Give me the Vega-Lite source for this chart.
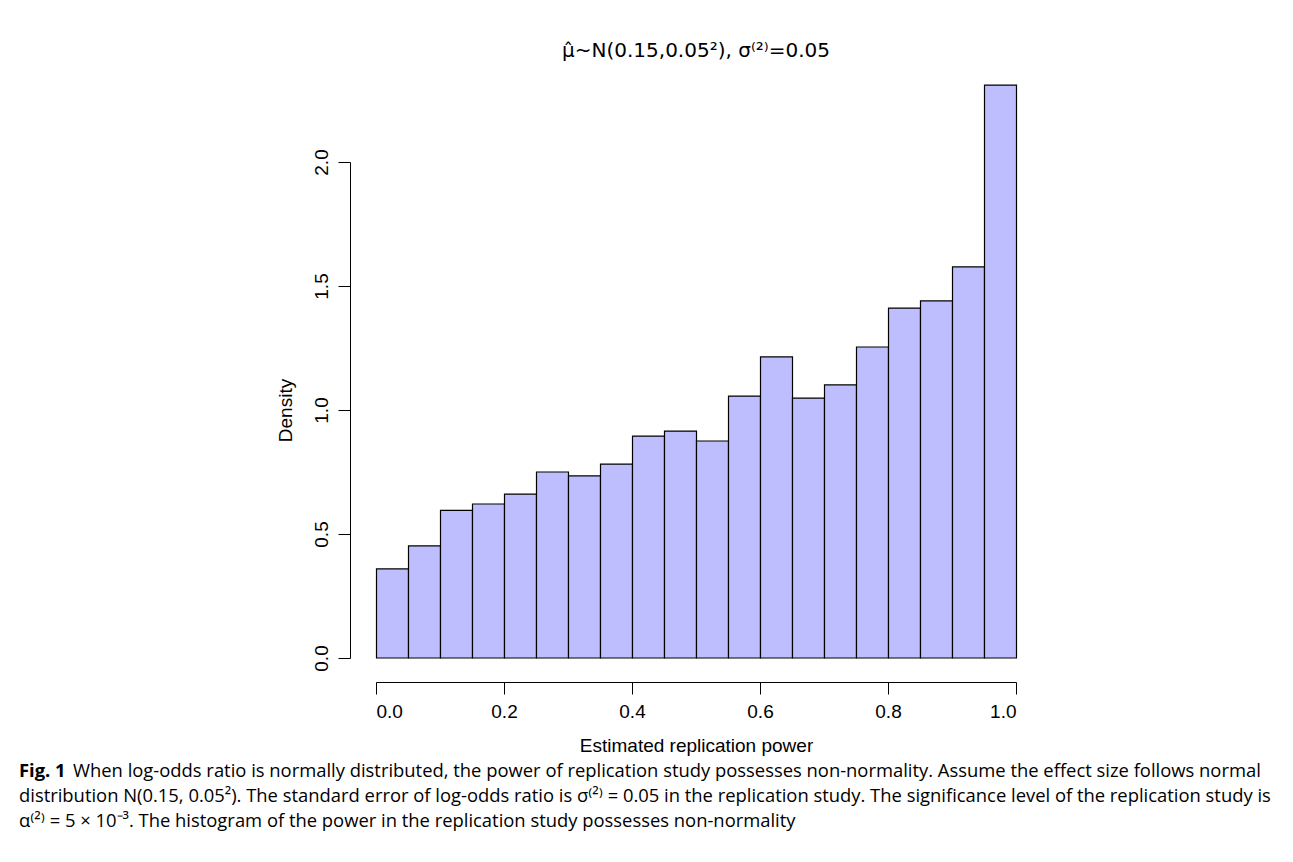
{
  "$schema": "https://vega.github.io/schema/vega-lite/v6.json",
  "background": "white",
  "padding": {"left": 19, "top": 40, "right": 5, "bottom": 5},
  "datasets": {
    "hist": [
      {"bin_start": 0.00, "bin_end": 0.05, "density": 0.359},
      {"bin_start": 0.05, "bin_end": 0.10, "density": 0.452},
      {"bin_start": 0.10, "bin_end": 0.15, "density": 0.595},
      {"bin_start": 0.15, "bin_end": 0.20, "density": 0.621},
      {"bin_start": 0.20, "bin_end": 0.25, "density": 0.661},
      {"bin_start": 0.25, "bin_end": 0.30, "density": 0.750},
      {"bin_start": 0.30, "bin_end": 0.35, "density": 0.734},
      {"bin_start": 0.35, "bin_end": 0.40, "density": 0.782},
      {"bin_start": 0.40, "bin_end": 0.45, "density": 0.895},
      {"bin_start": 0.45, "bin_end": 0.50, "density": 0.915},
      {"bin_start": 0.50, "bin_end": 0.55, "density": 0.875},
      {"bin_start": 0.55, "bin_end": 0.60, "density": 1.056},
      {"bin_start": 0.60, "bin_end": 0.65, "density": 1.214},
      {"bin_start": 0.65, "bin_end": 0.70, "density": 1.048},
      {"bin_start": 0.70, "bin_end": 0.75, "density": 1.101},
      {"bin_start": 0.75, "bin_end": 0.80, "density": 1.254},
      {"bin_start": 0.80, "bin_end": 0.85, "density": 1.411},
      {"bin_start": 0.85, "bin_end": 0.90, "density": 1.440},
      {"bin_start": 0.90, "bin_end": 0.95, "density": 1.577},
      {"bin_start": 0.95, "bin_end": 1.00, "density": 2.310}
    ],
    "caption": [
      {"line": 1, "part": "label", "text": "Fig. 1"},
      {"line": 1, "part": "body", "text": "When log-odds ratio is normally distributed, the power of replication study possesses non-normality. Assume the effect size follows normal"},
      {"line": 2, "part": "body", "text": "distribution N(0.15, 0.05²). The standard error of log-odds ratio is σ⁽²⁾ = 0.05 in the replication study. The significance level of the replication study is"},
      {"line": 3, "part": "body", "text": "α⁽²⁾ = 5 × 10⁻³. The histogram of the power in the replication study possesses non-normality"}
    ]
  },
  "vconcat": [
    {
      "width": 640,
      "height": 496,
      "title": {
        "text": "μ̂~N(0.15,0.05²), σ⁽²⁾=0.05",
        "font": "DejaVu Sans",
        "fontSize": 20,
        "fontWeight": "normal",
        "color": "black",
        "anchor": "middle",
        "frame": "group",
        "offset": 24
      },
      "data": {"name": "hist"},
      "mark": {"type": "bar", "fill": "#BEBEFF", "stroke": "black", "strokeWidth": 1.2, "binSpacing": 0},
      "encoding": {
        "x": {
          "field": "bin_start",
          "type": "quantitative",
          "bin": "binned",
          "scale": {"domain": [0, 1], "nice": false, "zero": false},
          "axis": {
            "title": "Estimated replication power",
            "values": [0, 0.2, 0.4, 0.6, 0.8, 1.0],
            "format": ".1f",
            "grid": false,
            "offset": 24,
            "tickSize": 12,
            "labelPadding": 8,
            "titlePadding": 15
          }
        },
        "x2": {"field": "bin_end"},
        "y": {
          "field": "density",
          "type": "quantitative",
          "scale": {"domain": [0, 2], "nice": false},
          "axis": {
            "title": "Density",
            "values": [0, 0.5, 1.0, 1.5, 2.0],
            "format": ".1f",
            "grid": false,
            "offset": 26,
            "tickSize": 12,
            "labelAngle": -90,
            "labelAlign": "center",
            "labelBaseline": "alphabetic",
            "labelPadding": 11,
            "titlePadding": 17
          }
        }
      }
    },
    {
      "width": 640,
      "height": 75,
      "data": {"name": "caption"},
      "layer": [
        {
          "transform": [{"filter": "datum.part === 'label'"}],
          "mark": {"type": "text", "align": "left", "baseline": "middle", "font": "Open Sans", "fontSize": 18.4, "fontWeight": "bold", "color": "black", "dx": -357},
          "encoding": {
            "x": {"datum": 0, "type": "quantitative", "scale": {"domain": [0, 1]}, "axis": null},
            "y": {"field": "line", "type": "ordinal", "axis": null},
            "text": {"field": "text"}
          }
        },
        {
          "transform": [{"filter": "datum.part === 'body' && datum.line === 1"}],
          "mark": {"type": "text", "align": "left", "baseline": "middle", "font": "Open Sans", "fontSize": 18.4, "color": "black", "dx": -303},
          "encoding": {
            "x": {"datum": 0, "type": "quantitative", "scale": {"domain": [0, 1]}, "axis": null},
            "y": {"field": "line", "type": "ordinal", "axis": null},
            "text": {"field": "text"}
          }
        },
        {
          "transform": [{"filter": "datum.part === 'body' && datum.line > 1"}],
          "mark": {"type": "text", "align": "left", "baseline": "middle", "font": "Open Sans", "fontSize": 18.4, "color": "black", "dx": -357},
          "encoding": {
            "x": {"datum": 0, "type": "quantitative", "scale": {"domain": [0, 1]}, "axis": null},
            "y": {"field": "line", "type": "ordinal", "axis": null},
            "text": {"field": "text"}
          }
        }
      ]
    }
  ],
  "spacing": 3,
  "config": {
    "view": {"stroke": null},
    "axis": {
      "domainColor": "black",
      "tickColor": "black",
      "labelColor": "black",
      "titleColor": "black",
      "labelFont": "Liberation Sans",
      "titleFont": "Liberation Sans",
      "labelFontSize": 19,
      "titleFontSize": 19,
      "titleFontWeight": "normal",
      "domainWidth": 1,
      "tickWidth": 1
    }
  }
}
